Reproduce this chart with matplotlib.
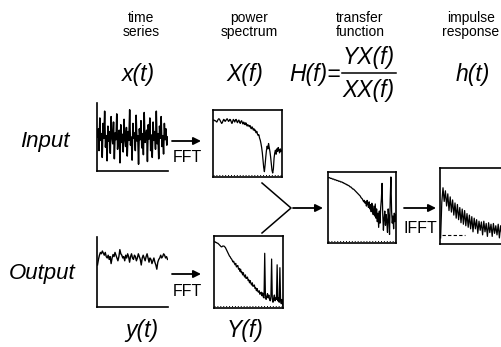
import matplotlib.pyplot as plt

plt.rcParams['font.family'] = ['Liberation Sans', 'DejaVu Sans']

# ---- data (normalised 0..1 inside each panel) ----
in_ts = [0.50, 0.62, 0.30, 0.78, 0.45, 0.55, 0.20, 0.70, 0.48, 0.88, 0.35, 0.52, 0.15, 0.66, 0.44, 0.58, 0.26, 0.80, 0.50, 0.40,
         0.72, 0.18, 0.56, 0.46, 0.84, 0.32, 0.50, 0.60, 0.12, 0.68, 0.42, 0.54, 0.28, 0.76, 0.47, 0.36, 0.64, 0.22, 0.58, 0.45,
         0.90, 0.38, 0.50, 0.16, 0.70, 0.48, 0.56, 0.30, 0.82, 0.44, 0.52, 0.10, 0.62, 0.46, 0.74, 0.34, 0.55, 0.24, 0.86, 0.42,
         0.50, 0.60, 0.14, 0.68, 0.47, 0.78, 0.30, 0.53, 0.20, 0.72, 0.45, 0.58, 0.32, 0.88, 0.40, 0.55, 0.18, 0.66, 0.48, 0.80,
         0.36, 0.52, 0.25, 0.70, 0.46, 0.62, 0.38, 0.50]

out_ts = [0.60, 0.68, 0.74, 0.78, 0.76, 0.80, 0.77, 0.74, 0.78, 0.72, 0.70, 0.74, 0.68, 0.72, 0.62, 0.70, 0.75, 0.72, 0.78, 0.74,
          0.70, 0.66, 0.72, 0.82, 0.76, 0.74, 0.70, 0.72, 0.66, 0.74, 0.70, 0.76, 0.72, 0.64, 0.72, 0.76, 0.70, 0.68, 0.74, 0.72,
          0.66, 0.70, 0.76, 0.72, 0.68, 0.60, 0.70, 0.74, 0.70, 0.66, 0.72, 0.76, 0.70, 0.64, 0.70, 0.68, 0.62, 0.66, 0.70, 0.64,
          0.60, 0.54, 0.64, 0.68, 0.70, 0.74, 0.70, 0.72, 0.76, 0.74, 0.70, 0.72, 0.68]

in_ps = [0.85, 0.85, 0.84, 0.84, 0.83, 0.82, 0.84, 0.86, 0.87, 0.86, 0.84, 0.82, 0.80, 0.81, 0.84, 0.86, 0.85, 0.83, 0.84, 0.86,
         0.87, 0.85, 0.83, 0.84, 0.86, 0.85, 0.82, 0.80, 0.83, 0.86, 0.84, 0.82, 0.85, 0.86, 0.83, 0.81, 0.84, 0.85, 0.82, 0.80,
         0.83, 0.84, 0.81, 0.79, 0.82, 0.80, 0.78, 0.81, 0.79, 0.76, 0.78, 0.77, 0.75, 0.77, 0.74, 0.72, 0.75, 0.73, 0.70, 0.72,
         0.69, 0.70, 0.66, 0.68, 0.64, 0.62, 0.63, 0.58, 0.55, 0.50, 0.44, 0.36, 0.25, 0.14, 0.08, 0.18, 0.30, 0.40, 0.46, 0.42,
         0.50, 0.44, 0.38, 0.30, 0.20, 0.10, 0.06, 0.12, 0.28, 0.36, 0.40, 0.34, 0.42, 0.38, 0.44, 0.40, 0.36, 0.42, 0.38, 0.40]

out_ps = [0.92, 0.92, 0.91, 0.91, 0.90, 0.90, 0.89, 0.88, 0.87, 0.86, 0.85, 0.85, 0.86, 0.86, 0.86, 0.85, 0.84, 0.82, 0.80, 0.78,
          0.76, 0.74, 0.72, 0.71, 0.69, 0.68, 0.66, 0.64, 0.65, 0.62, 0.60, 0.62, 0.57, 0.58, 0.59, 0.54, 0.55, 0.51, 0.54, 0.49,
          0.50, 0.46, 0.49, 0.45, 0.43, 0.46, 0.41, 0.42, 0.43, 0.38, 0.39, 0.35, 0.38, 0.34, 0.32, 0.35, 0.30, 0.31, 0.32, 0.27,
          0.28, 0.24, 0.27, 0.23, 0.22, 0.24, 0.19, 0.20, 0.22, 0.17, 0.21, 0.15, 0.14, 0.76, 0.18, 0.12, 0.16, 0.20, 0.14, 0.18,
          0.12, 0.10, 0.16, 0.68, 0.12, 0.08, 0.14, 0.18, 0.10, 0.14, 0.12, 0.60, 0.10, 0.14, 0.08, 0.56, 0.10, 0.06, 0.12, 0.04]

tf = [0.92, 0.92, 0.92, 0.91, 0.91, 0.91, 0.90, 0.90, 0.90, 0.89, 0.89, 0.89, 0.88, 0.88, 0.88, 0.87, 0.87, 0.87, 0.86, 0.86,
      0.86, 0.85, 0.85, 0.84, 0.84, 0.83, 0.83, 0.82, 0.82, 0.81, 0.81, 0.80, 0.79, 0.79, 0.78, 0.77, 0.76, 0.76, 0.75, 0.74,
      0.73, 0.72, 0.71, 0.70, 0.69, 0.68, 0.67, 0.66, 0.64, 0.63, 0.62, 0.60, 0.58, 0.60, 0.56, 0.58, 0.52, 0.60, 0.55, 0.50,
      0.58, 0.48, 0.54, 0.44, 0.56, 0.46, 0.40, 0.52, 0.38, 0.55, 0.35, 0.48, 0.30, 0.42, 0.22, 0.45, 0.28, 0.50, 0.62, 0.84,
      0.40, 0.18, 0.35, 0.45, 0.25, 0.40, 0.30, 0.15, 0.48, 0.35, 0.12, 0.62, 0.93, 0.45, 0.28, 0.38, 0.20, 0.42, 0.30, 0.40]

imp = [0.08, 0.55, 0.74, 0.56, 0.70, 0.50, 0.66, 0.44, 0.62, 0.42, 0.58, 0.38, 0.54, 0.34, 0.52, 0.32, 0.48, 0.28, 0.46, 0.26,
       0.44, 0.24, 0.40, 0.22, 0.38, 0.20, 0.36, 0.16, 0.34, 0.20, 0.32, 0.14, 0.30, 0.18, 0.29, 0.12, 0.30, 0.16, 0.27, 0.10,
       0.28, 0.15, 0.26, 0.10, 0.27, 0.14, 0.24, 0.12, 0.26, 0.08, 0.24, 0.13, 0.22, 0.10, 0.25, 0.11, 0.22, 0.08, 0.20, 0.10]
imp_ref = 0.12

W, H = 501, 347
fig = plt.figure(figsize=(W / 100, H / 100), dpi=100)

# overlay in pixel coordinates for labels and arrows
ov = fig.add_axes([0, 0, 1, 1])
ov.set_xlim(0, W)
ov.set_ylim(H, 0)
ov.axis('off')


def panel(x0, y0, x1, y1, frame=True):
    ax = fig.add_axes([x0 / W, 1 - y1 / H, (x1 - x0) / W, (y1 - y0) / H])
    ax.set_xticks([])
    ax.set_yticks([])
    ax.set_facecolor('none')
    ax.set_ylim(0, 1)
    for s in ax.spines.values():
        s.set_linewidth(1.2)
    if not frame:
        ax.spines['top'].set_visible(False)
        ax.spines['right'].set_visible(False)
    return ax


def draw(ax, vals, lw=0.9, floor=True):
    ax.plot(range(len(vals)), vals, color='k', lw=lw)
    ax.set_xlim(-0.5, len(vals) - 0.5)
    if floor:
        ax.plot([0, len(vals) - 1], [0.03, 0.03], color='k', lw=0.7, ls=(0, (1, 2)))


draw(panel(97, 103, 168, 171, frame=False), in_ts, lw=1.1, floor=False)
draw(panel(97, 237, 168, 307, frame=False), out_ts, lw=1.0, floor=False)
draw(panel(213, 110, 282, 177), in_ps)
draw(panel(214, 236, 283, 308), out_ps)
draw(panel(328, 172, 396, 243), tf)
ax_imp = panel(440, 168, 512, 244)
draw(ax_imp, imp, floor=False)
ax_imp.plot([1, 20], [imp_ref, imp_ref], color='k', lw=0.8, ls=(0, (3, 2)))

arrow = dict(arrowstyle='-|>', color='k', lw=1.3, mutation_scale=11, shrinkA=0, shrinkB=0)
ov.annotate('', xy=(201, 141), xytext=(172, 141), arrowprops=arrow)
ov.annotate('', xy=(201, 274), xytext=(172, 274), arrowprops=arrow)
ov.annotate('', xy=(323, 208), xytext=(293, 208), arrowprops=arrow)
ov.annotate('', xy=(436, 208), xytext=(404, 208), arrowprops=arrow)
ov.plot([262, 291, 262], [183, 208, 233], color='k', lw=1.1)

ov.text(187, 157, 'FFT', ha='center', va='center', fontsize=11.5)
ov.text(187, 291, 'FFT', ha='center', va='center', fontsize=11.5)
ov.text(420, 228, 'IFFT', ha='center', va='center', fontsize=11.5)

hdr = dict(ha='center', va='center', fontsize=10, linespacing=1.0)
ov.text(141, 25, 'time\nseries', **hdr)
ov.text(249, 25, 'power\nspectrum', **hdr)
ov.text(360, 25, 'transfer\nfunction', **hdr)
ov.text(471, 25, 'impulse\nresponse', **hdr)

lab = dict(ha='center', va='center', fontsize=16.5, style='italic')
ov.text(138, 74, 'x(t)', **lab)
ov.text(245, 74, 'X(f)', **lab)
ov.text(315, 74, 'H(f)=', **lab)
ov.text(369, 57, 'YX(f)', **lab)
ov.text(369, 90, 'XX(f)', **lab)
ov.plot([342, 396], [73, 73], color='k', lw=1.1)
ov.text(473, 74, 'h(t)', **lab)
ov.text(142, 330, 'y(t)', **lab)
ov.text(245, 330, 'Y(f)', **lab)

ov.text(45, 141, 'Input', ha='center', va='center', fontsize=16, style='italic')
ov.text(42, 273, 'Output', ha='center', va='center', fontsize=16, style='italic')

fig.savefig('out.png', dpi=100)
